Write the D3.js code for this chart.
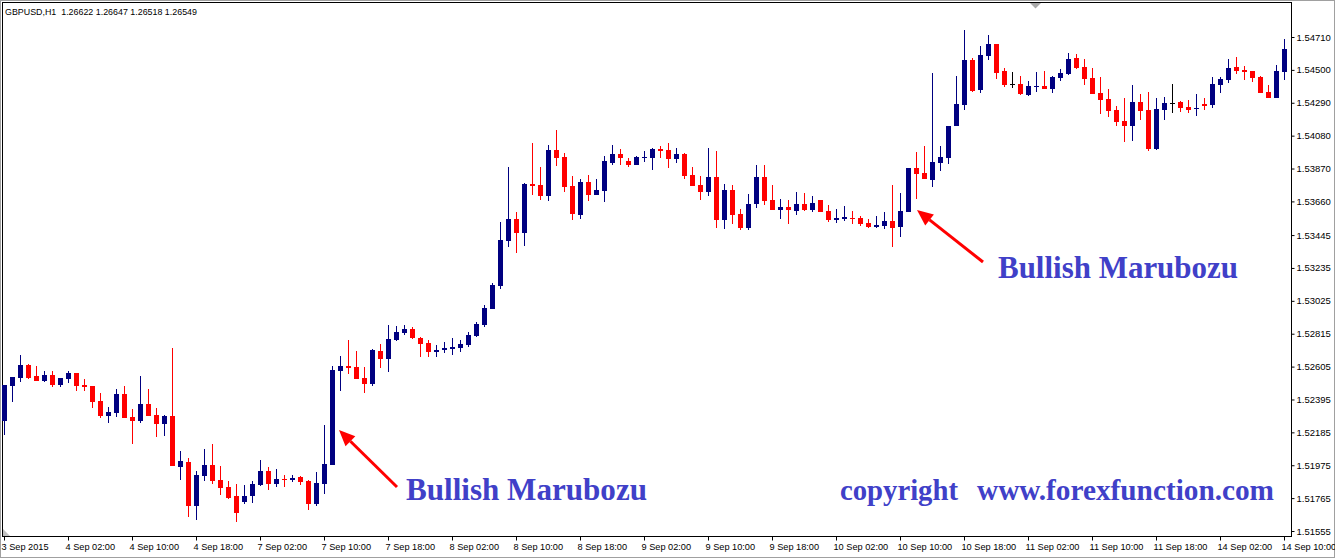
<!DOCTYPE html>
<html><head><meta charset="utf-8">
<script src="https://cdn.jsdelivr.net/npm/d3@7/dist/d3.min.js"></script>
<style>
html,body{margin:0;padding:0;background:#fff;}
svg{display:block;}
</style></head>
<body>
<svg id="c" width="1335" height="558"></svg>
<script>
const chartTitle = "GBPUSD,H1  1.26622 1.26647 1.26518 1.26549";
const timeLabels = ["3 Sep 2015","4 Sep 02:00","4 Sep 10:00","4 Sep 18:00","7 Sep 02:00","7 Sep 10:00","7 Sep 18:00","8 Sep 02:00","8 Sep 10:00","8 Sep 18:00","9 Sep 02:00","9 Sep 10:00","9 Sep 18:00","10 Sep 02:00","10 Sep 10:00","10 Sep 18:00","11 Sep 02:00","11 Sep 10:00","11 Sep 18:00","14 Sep 02:00","14 Sep 10:00"];
const timeLabelBars = [0,8,16,24,32,40,48,56,64,72,80,88,96,104,112,120,128,136,144,152,160];
const priceTicks = [1.54710,1.54500,1.54290,1.54080,1.53870,1.53660,1.53445,1.53235,1.53025,1.52815,1.52605,1.52395,1.52185,1.51975,1.51765,1.51555];

const opens = [1.52259,1.52483,1.52534,1.52615,1.52545,1.52513,1.52551,1.52489,1.52528,1.52564,1.52489,1.52481,1.52385,1.52291,1.52310,1.52430,1.52281,1.52259,1.52366,1.52296,
1.52240,1.52289,1.51966,1.51996,1.51716,1.51908,1.51976,1.51881,1.51836,1.51778,1.51742,1.51780,1.51851,1.51938,1.51857,1.51887,1.51881,1.51900,1.51876,1.51729,
1.51857,1.51978,1.52579,1.52609,1.52602,1.52532,1.52496,1.52705,1.52653,1.52777,1.52821,1.52845,1.52788,1.52756,1.52700,1.52711,1.52717,1.52724,1.52743,1.52800,
1.52871,1.52973,1.53120,1.53407,1.53548,1.53458,1.53771,1.53765,1.53694,1.53988,1.53944,1.53758,1.53575,1.53784,1.53703,1.53728,1.53907,1.53963,1.53918,1.53894,
1.53939,1.53939,1.53995,1.53988,1.53933,1.53963,1.53829,1.53765,1.53722,1.53816,1.53543,1.53733,1.53580,1.53492,1.53643,1.53816,1.53669,1.53607,1.53624,1.53601,
1.53643,1.53605,1.53669,1.53599,1.53543,1.53550,1.53554,1.53554,1.53522,1.53497,1.53503,1.53535,1.53497,1.53592,1.53873,1.53841,1.53797,1.53905,1.53937,1.54142,
1.54276,1.54563,1.54371,1.54591,1.54665,1.54493,1.54410,1.54410,1.54342,1.54393,1.54397,1.54380,1.54450,1.54476,1.54576,1.54518,1.54448,1.54354,1.54314,1.54246,
1.54173,1.54144,1.54295,1.54244,1.53997,1.54244,1.54289,1.54295,1.54263,1.54252,1.54282,1.54278,1.54405,1.54437,1.54518,1.54499,1.54493,1.54455,1.54359,1.54322,
1.54488];
const highs = [1.52487,1.52538,1.52679,1.52621,1.52609,1.52577,1.52577,1.52532,1.52577,1.52564,1.52526,1.52481,1.52436,1.52347,1.52462,1.52481,1.52334,1.52545,1.52462,1.52340,
1.52296,1.52726,1.52066,1.52021,1.51938,1.52079,1.52111,1.51970,1.51874,1.51855,1.51849,1.51874,1.52008,1.51964,1.51951,1.51913,1.51914,1.51908,1.51883,1.51932,
1.52232,1.52611,1.52673,1.52775,1.52705,1.52602,1.52717,1.52751,1.52871,1.52864,1.52871,1.52858,1.52794,1.52775,1.52743,1.52762,1.52788,1.52775,1.52826,1.52890,
1.52998,1.53139,1.53528,1.53880,1.53592,1.53777,1.54033,1.53880,1.54020,1.54116,1.53969,1.53822,1.53803,1.53829,1.53803,1.53950,1.54020,1.53995,1.53937,1.53950,
1.53982,1.54001,1.54014,1.54033,1.54001,1.53969,1.53880,1.53822,1.54001,1.53982,1.53771,1.53765,1.53611,1.53707,1.53893,1.53893,1.53765,1.53675,1.53669,1.53720,
1.53714,1.53694,1.53669,1.53637,1.53611,1.53631,1.53599,1.53567,1.53548,1.53567,1.53592,1.53765,1.53714,1.53873,1.53976,1.54014,1.54480,1.54014,1.54142,1.54461,
1.54755,1.54576,1.54652,1.54723,1.54665,1.54512,1.54487,1.54461,1.54429,1.54487,1.54493,1.54461,1.54506,1.54608,1.54601,1.54570,1.54512,1.54455,1.54378,1.54269,
1.54320,1.54403,1.54346,1.54359,1.54320,1.54327,1.54410,1.54301,1.54308,1.54346,1.54320,1.54455,1.54455,1.54570,1.54582,1.54525,1.54493,1.54461,1.54403,1.54531,
1.54697];
const lows = [1.52168,1.52381,1.52508,1.52526,1.52515,1.52507,1.52477,1.52477,1.52502,1.52449,1.52449,1.52342,1.52279,1.52247,1.52285,1.52279,1.52112,1.52243,1.52291,1.52157,
1.52164,1.51972,1.51883,1.51646,1.51627,1.51876,1.51857,1.51787,1.51761,1.51614,1.51729,1.51736,1.51844,1.51819,1.51838,1.51838,1.51868,1.51851,1.51691,1.51716,
1.51793,1.51978,1.52451,1.52560,1.52528,1.52438,1.52483,1.52598,1.52572,1.52770,1.52809,1.52781,1.52666,1.52668,1.52668,1.52694,1.52681,1.52698,1.52730,1.52794,
1.52858,1.52973,1.53100,1.53369,1.53330,1.53375,1.53701,1.53669,1.53662,1.53888,1.53720,1.53543,1.53550,1.53664,1.53703,1.53658,1.53894,1.53894,1.53882,1.53894,
1.53912,1.53862,1.53937,1.53875,1.53907,1.53805,1.53760,1.53671,1.53696,1.53492,1.53486,1.53518,1.53479,1.53479,1.53620,1.53637,1.53607,1.53550,1.53518,1.53575,
1.53599,1.53594,1.53594,1.53530,1.53524,1.53537,1.53516,1.53503,1.53490,1.53490,1.53484,1.53369,1.53433,1.53592,1.53675,1.53803,1.53752,1.53854,1.53899,1.54142,
1.54244,1.54359,1.54352,1.54565,1.54444,1.54393,1.54386,1.54342,1.54335,1.54361,1.54380,1.54354,1.54431,1.54469,1.54508,1.54405,1.54348,1.54220,1.54201,1.54144,
1.54041,1.54048,1.54182,1.53984,1.53990,1.54182,1.54227,1.54233,1.54227,1.54207,1.54246,1.54258,1.54352,1.54418,1.54476,1.54437,1.54425,1.54354,1.54322,1.54322,
1.54437];
const closes = [1.52487,1.52538,1.52615,1.52534,1.52515,1.52551,1.52489,1.52532,1.52564,1.52483,1.52477,1.52381,1.52291,1.52315,1.52430,1.52279,1.52259,1.52366,1.52291,1.52240,
1.52289,1.51972,1.52002,1.51716,1.51913,1.51976,1.51876,1.51831,1.51768,1.51672,1.51778,1.51855,1.51938,1.51857,1.51887,1.51883,1.51893,1.51868,1.51729,1.51861,
1.51983,1.52583,1.52609,1.52598,1.52528,1.52496,1.52711,1.52653,1.52781,1.52826,1.52845,1.52788,1.52749,1.52698,1.52711,1.52724,1.52730,1.52749,1.52807,1.52877,
1.52979,1.53126,1.53413,1.53548,1.53458,1.53771,1.53758,1.53694,1.53988,1.53939,1.53752,1.53581,1.53784,1.53703,1.53733,1.53918,1.53963,1.53939,1.53894,1.53944,
1.53944,1.53995,1.53982,1.53933,1.53963,1.53824,1.53760,1.53722,1.53816,1.53543,1.53733,1.53575,1.53492,1.53643,1.53816,1.53663,1.53607,1.53624,1.53607,1.53643,
1.53605,1.53650,1.53594,1.53543,1.53554,1.53560,1.53548,1.53516,1.53497,1.53509,1.53535,1.53490,1.53599,1.53873,1.53835,1.53803,1.53912,1.53944,1.54142,1.54282,
1.54563,1.54365,1.54595,1.54665,1.54482,1.54405,1.54410,1.54348,1.54397,1.54399,1.54380,1.54455,1.54480,1.54570,1.54514,1.54444,1.54348,1.54310,1.54239,1.54169,
1.54144,1.54295,1.54239,1.53997,1.54250,1.54289,1.54289,1.54258,1.54246,1.54257,1.54271,1.54410,1.54442,1.54512,1.54495,1.54488,1.54450,1.54354,1.54322,1.54493,
1.54633];

const bullColor = "#000080", bearColor = "#ff0000", dojiColor = "#000000";
const annColor = "#4040c8", arrowColor = "#ff0000";

const svg = d3.select("#c");
const W = 1335, H = 558;
const plot = {left: 2.5, top: 2.5, right: 1291.5, bottom: 536.5};

const x = d3.scaleLinear().domain([0, 160]).range([4, 1284]);
const y = d3.scaleLinear().domain([1.51555, 1.54710]).range([531, 37]);

// window frame
svg.append("rect").attr("x",0.5).attr("y",0.5).attr("width",W-1).attr("height",H-1)
  .attr("fill","#fff").attr("stroke","#a0a0a0");
// plot frame
svg.append("rect").attr("x",plot.left).attr("y",plot.top)
  .attr("width",plot.right-plot.left).attr("height",plot.bottom-plot.top)
  .attr("fill","none").attr("stroke","#000").attr("stroke-width",1);

// chart shift marker (top) and scale-fix marker (bottom-left)
svg.append("path").attr("d","M1030,3L1041,3L1035.5,8.5Z").attr("fill","#a8a8a8");
svg.append("path").attr("d","M3,529L3,536L10,536Z").attr("fill","#c0c0c0");

// y axis
const yAxis = d3.axisRight(y).tickValues(priceTicks).tickSize(3).tickPadding(2)
  .tickFormat(d3.format(".5f"));
const yg = svg.append("g").attr("transform",`translate(${plot.right},0)`).call(yAxis);
yg.select(".domain").remove();
yg.selectAll("text").attr("font-family","Liberation Sans, Arial, sans-serif").attr("font-size","9.5px").attr("fill","#000");
yg.selectAll("line").attr("stroke","#000");

// x axis
const xAxis = d3.axisBottom(x).tickValues(timeLabelBars).tickSize(4).tickPadding(3)
  .tickFormat((d,i)=>timeLabels[i]);
const xg = svg.append("g").attr("transform",`translate(0,${plot.bottom})`).call(xAxis);
xg.select(".domain").remove();
xg.selectAll("text").attr("font-family","Liberation Sans, Arial, sans-serif").attr("font-size","9.2px")
  .attr("fill","#000").attr("text-anchor","start").attr("dx","-3px");
xg.selectAll("line").attr("stroke","#000");

// title
svg.append("text").attr("x",5).attr("y",15).text(chartTitle)
  .attr("font-family","Liberation Sans, Arial, sans-serif").attr("font-size","8.9px").attr("fill","#000")
  .attr("xml:space","preserve");

// candles
const candles = opens.map((o,i)=>({i, o, h: highs[i], l: lows[i], c: closes[i]}));
const colorOf = d => d.c > d.o ? bullColor : (d.c < d.o ? bearColor : dojiColor);
const cg = svg.append("g");
cg.selectAll("rect.wick").data(candles).enter().append("rect")
  .attr("x", d => Math.round(x(d.i)))
  .attr("y", d => Math.round(y(d.h)))
  .attr("width", 1)
  .attr("height", d => Math.max(1, Math.round(y(d.l)) - Math.round(y(d.h))))
  .attr("fill", colorOf).attr("shape-rendering","crispEdges");
cg.selectAll("rect.body").data(candles).enter().append("rect")
  .attr("x", d => Math.round(x(d.i)) - 2)
  .attr("y", d => Math.round(y(Math.max(d.o,d.c))))
  .attr("width", 5)
  .attr("height", d => Math.max(1, Math.round(y(Math.min(d.o,d.c))) - Math.round(y(Math.max(d.o,d.c)))))
  .attr("fill", colorOf).attr("shape-rendering","crispEdges");

// annotations
function arrow(x1,y1,x2,y2){
  const ang = Math.atan2(y2-y1, x2-x1);
  const hl = 16, hw = 7;
  const bx = x2 - hl*Math.cos(ang), by = y2 - hl*Math.sin(ang);
  svg.append("line").attr("x1",x1).attr("y1",y1).attr("x2",bx).attr("y2",by)
    .attr("stroke",arrowColor).attr("stroke-width",3);
  const px = -Math.sin(ang)*hw, py = Math.cos(ang)*hw;
  svg.append("path").attr("d",`M${x2},${y2}L${bx+px},${by+py}L${bx-px},${by-py}Z`).attr("fill",arrowColor);
}
arrow(397, 487, 339, 430);
arrow(983, 262, 917, 210);

const annFont = "Liberation Serif, Times New Roman, serif";
function annText(tx, ty, str, size, width){
  svg.append("text").attr("x",tx).attr("y",ty).text(str)
    .attr("font-family",annFont).attr("font-weight","bold").attr("font-size",size+"px")
    .attr("fill",annColor).attr("textLength",width).attr("lengthAdjust","spacingAndGlyphs");
}
annText(406, 500, "Bullish Marubozu", 31, 241);
annText(998, 278, "Bullish Marubozu", 31, 240);
annText(840, 500, "copyright", 29, 118);
annText(977, 500, "www.forexfunction.com", 29, 297);
</script>
</body></html>
